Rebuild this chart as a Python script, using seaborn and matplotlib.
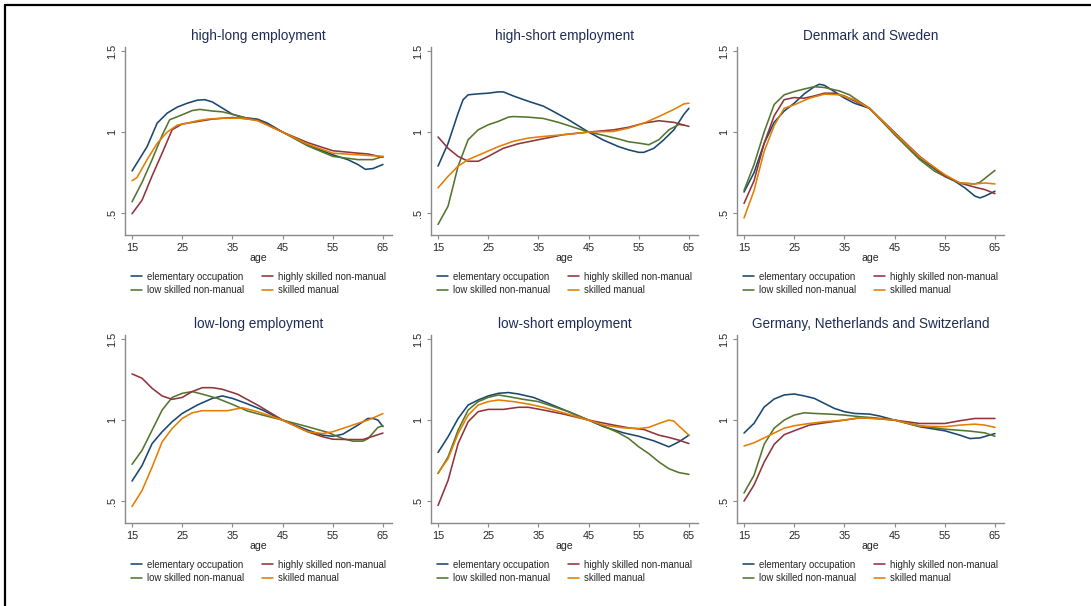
import matplotlib
matplotlib.use("Agg")
import matplotlib.pyplot as plt
import pandas as pd
import seaborn as sns
from matplotlib.lines import Line2D

# Occupation groups (legend order: row-wise 2x2) and their Stata s2color colours
GROUPS = ["elementary occupation", "low skilled non-manual",
          "highly skilled non-manual", "skilled manual"]
COLORS = ["#1a476f", "#55752f", "#90353b", "#e37e00"]

TITLES = ["high-long employment", "high-short employment", "Denmark and Sweden",
          "low-long employment", "low-short employment",
          "Germany, Netherlands and Switzerland"]

AGE_TICKS = [15, 25, 35, 45, 55, 65]
Y_TICKS = [0.5, 1.0, 1.5]
Y_TICK_LABELS = [".5", "1", "1.5"]

# --- high-long employment: (age, relative ratio) ---
hl_elem = [(15, .76), (18, .91), (20, 1.055), (22, 1.117), (24, 1.154), (26, 1.178), (28, 1.197),
           (29.5, 1.20), (31, 1.186), (33, 1.148), (35, 1.11), (37, 1.09), (40, 1.08), (42, 1.055),
           (45, 1.0), (50, .92), (55, .86), (58, .83), (60, .80), (61.5, .77), (63, .775), (65, .80)]
hl_low = [(15, .57), (17, .69), (19, .83), (21, .98), (22.5, 1.076), (25, 1.107), (27, 1.133),
          (28.5, 1.14), (31, 1.13), (33, 1.125), (35, 1.11), (38, 1.086), (40, 1.075), (45, 1.0),
          (50, .915), (55, .85), (60, .83), (63, .83), (65, .85)]
hl_high = [(15, .496), (17, .58), (19, .73), (21, .87), (23, 1.015), (25, 1.05), (28, 1.065),
           (31, 1.08), (35, 1.09), (40, 1.075), (45, 1.0), (50, .935), (55, .885), (60, .87),
           (62, .865), (65, .845)]
hl_skill = [(15, .70), (16, .72), (18, .83), (20, .93), (22, 1.0), (24, 1.043), (26, 1.055),
            (28, 1.07), (30, 1.08), (33, 1.086), (37, 1.086), (40, 1.07), (45, 1.0), (50, .925),
            (55, .87), (60, .86), (65, .85)]

# --- high-short employment ---
hs_elem = [(15, .79), (17, .93), (19, 1.117), (20, 1.20), (21, 1.23), (23, 1.236), (25, 1.24),
           (27, 1.248), (28, 1.248), (30, 1.223), (33, 1.19), (36, 1.16), (38, 1.127), (41, 1.076),
           (45, 1.0), (48, .95), (51, .91), (53, .89), (55, .875), (56, .875), (58, .90), (60, .953),
           (62, 1.014), (64, 1.11), (65, 1.147)]
hs_low = [(15, .43), (17, .543), (19, .79), (21, .953), (23, 1.014), (25, 1.045), (27, 1.066),
          (29, 1.092), (30, 1.096), (33, 1.092), (36, 1.084), (39, 1.06), (42, 1.03), (45, 1.0),
          (48, .98), (51, .957), (53, .94), (55, .932), (57, .922), (59, .953), (61, 1.014),
          (63, 1.047), (64, 1.043)]
hs_high = [(15, .97), (17, .90), (19, .85), (21, .82), (23, .82), (25, .85), (28, .90), (31, .928),
           (35, .953), (40, .984), (45, 1.0), (50, 1.014), (53, 1.03), (56, 1.055), (59, 1.07),
           (62, 1.06), (65, 1.035)]
hs_skill = [(15, .656), (17, .727), (19, .79), (21, .83), (24, .87), (27, .91), (30, .943),
            (33, .963), (36, .973), (40, .984), (45, 1.0), (50, 1.004), (53, 1.025), (56, 1.055),
            (59, 1.096), (62, 1.14), (64, 1.174), (65, 1.178)]

# --- Denmark and Sweden ---
dk_elem = [(15, .63), (17, .75), (19, .93), (21, 1.06), (23, 1.13), (25, 1.178), (27, 1.236),
           (29, 1.28), (30, 1.295), (31, 1.289), (33, 1.25), (35, 1.21), (37, 1.178), (40, 1.147),
           (45, .994), (50, .84), (55, .727), (57, .697), (59, .656), (61, .605), (62, .594),
           (63, .605), (65, .635)]
dk_low = [(15, .64), (17, .80), (19, 1.0), (21, 1.17), (23, 1.23), (25, 1.25), (27, 1.266),
          (29, 1.28), (31, 1.275), (34, 1.254), (36, 1.23), (40, 1.147), (45, .984), (50, .83),
          (53, .758), (55, .727), (58, .686), (61, .68), (62, .69), (65, .764)]
dk_high = [(15, .56), (17, .70), (19, .93), (21, 1.10), (23, 1.20), (25, 1.213), (27, 1.209),
           (29, 1.223), (31, 1.24), (33, 1.24), (35, 1.223), (40, 1.147), (45, .998), (50, .85),
           (55, .73), (58, .686), (61, .66), (63, .645), (65, .62)]
dk_skill = [(15, .47), (17, .64), (19, .88), (21, 1.04), (23, 1.147), (25, 1.168), (28, 1.209),
            (31, 1.234), (34, 1.23), (37, 1.2), (40, 1.147), (45, .994), (50, .846), (55, .738),
            (58, .686), (61, .68), (63, .686), (65, .68)]

# --- low-long employment ---
ll_elem = [(15, .624), (17, .72), (19, .855), (21, .928), (23, .99), (25, 1.041), (28, 1.093),
           (31, 1.134), (33, 1.149), (35, 1.134), (38, 1.1), (41, 1.062), (45, 1.0), (50, .938),
           (53, .907), (55, .9), (57, .913), (60, .969), (62, 1.01), (63, 1.01), (64, 1.0), (65, .96)]
ll_low = [(15, .727), (17, .814), (19, .938), (21, 1.062), (23, 1.14), (25, 1.165), (27, 1.176),
          (29, 1.16), (32, 1.134), (35, 1.097), (38, 1.056), (41, 1.031), (45, 1.0), (50, .959),
          (54, .924), (57, .886), (59, .87), (61, .87), (62, .885), (63, .92), (64, .955), (65, .965)]
ll_high = [(15, 1.285), (17, 1.258), (19, 1.196), (21, 1.149), (23, 1.128), (25, 1.14),
           (27, 1.176), (29, 1.2), (31, 1.2), (33, 1.19), (36, 1.16), (40, 1.093), (45, 1.0),
           (50, .928), (53, .897), (55, .882), (58, .88), (61, .88), (63, .90), (65, .92)]
ll_skill = [(15, .467), (17, .566), (19, .71), (21, .866), (23, .948), (25, 1.01), (27, 1.045),
            (29, 1.058), (31, 1.058), (34, 1.058), (37, 1.076), (40, 1.052), (45, 1.0), (50, .928),
            (53, .917), (55, .928), (58, .959), (60, .98), (62, 1.0), (65, 1.04)]

# --- low-short employment ---
ls_elem = [(15, .8), (17, .897), (19, 1.01), (21, 1.093), (23, 1.124), (25, 1.149), (27, 1.165),
           (29, 1.17), (31, 1.161), (34, 1.14), (37, 1.103), (41, 1.052), (45, 1.0), (48, .959),
           (52, .921), (55, .9), (58, .872), (61, .835), (63, .866), (65, .907)]
ls_low = [(15, .67), (17, .773), (19, .938), (21, 1.062), (23, 1.114), (25, 1.14), (27, 1.155),
          (29, 1.145), (32, 1.128), (35, 1.114), (38, 1.083), (41, 1.052), (45, 1.0), (48, .963),
          (51, .921), (53, .886), (55, .835), (57, .793), (59, .742), (61, .7), (63, .676),
          (65, .665)]
ls_high = [(15, .473), (17, .628), (19, .855), (21, .99), (23, 1.052), (25, 1.066), (28, 1.066),
           (31, 1.079), (33, 1.079), (36, 1.062), (40, 1.037), (45, 1.0), (50, .969), (53, .952),
           (56, .942), (59, .907), (61, .893), (63, .876), (65, .855)]
ls_skill = [(15, .674), (17, .762), (19, .917), (21, 1.031), (23, 1.093), (25, 1.114), (27, 1.124),
            (30, 1.114), (33, 1.099), (36, 1.079), (40, 1.045), (45, 1.0), (48, .969), (52, .952),
            (55, .948), (57, .955), (59, .979), (61, 1.0), (62, .994), (63, .963), (65, .907)]

# --- Germany, Netherlands and Switzerland ---
gn_elem = [(15, .92), (17, .98), (19, 1.08), (21, 1.13), (23, 1.155), (25, 1.161), (27, 1.149),
           (29, 1.134), (31, 1.103), (33, 1.072), (35, 1.052), (37, 1.041), (40, 1.037),
           (42, 1.025), (45, 1.0), (50, .959), (55, .934), (58, .907), (60, .886), (62, .89),
           (65, .917)]
gn_low = [(15, .55), (17, .66), (19, .85), (21, .95), (23, 1.0), (25, 1.031), (27, 1.045),
          (29, 1.041), (32, 1.037), (35, 1.031), (38, 1.021), (41, 1.014), (45, 1.0), (50, .965),
          (55, .944), (60, .932), (63, .921), (65, .9)]
gn_high = [(15, .50), (17, .60), (19, .74), (21, .85), (23, .91), (25, .934), (28, .969),
           (31, .983), (35, 1.0), (38, 1.014), (41, 1.01), (45, 1.0), (50, .979), (55, .979),
           (58, .996), (61, 1.01), (65, 1.01)]
gn_skill = [(15, .84), (17, .86), (19, .89), (21, .92), (23, .95), (25, .965), (28, .979),
            (31, .99), (35, 1.0), (38, 1.014), (41, 1.01), (45, 1.0), (50, .963), (55, .959),
            (58, .969), (61, .975), (63, .969), (65, .955)]

PANELS = [
    (hl_elem, hl_low, hl_high, hl_skill),
    (hs_elem, hs_low, hs_high, hs_skill),
    (dk_elem, dk_low, dk_high, dk_skill),
    (ll_elem, ll_low, ll_high, ll_skill),
    (ls_elem, ls_low, ls_high, ls_skill),
    (gn_elem, gn_low, gn_high, gn_skill),
]


def panel_frame(series):
    rows = []
    for group, pts in zip(GROUPS, series):
        for age, val in pts:
            rows.append({"age": age, "ratio": val, "group": group})
    return pd.DataFrame(rows)


sns.set_theme(style="white")
plt.rcParams["font.family"] = ["Liberation Sans", "DejaVu Sans"]

W, H = 1091, 606
fig = plt.figure(figsize=(W / 100, H / 100), dpi=100)
fig.patch.set_facecolor("white")

AX_LEFTS = [125, 431, 737]
AX_TOPS = [47, 335]
AX_W, AX_H = 267, 188
AXIS_GREY = "#8a8a8a"
TEXT_COL = "#262626"
TITLE_COL = "#1f2d55"

palette = dict(zip(GROUPS, COLORS))

for i, (title, series) in enumerate(zip(TITLES, PANELS)):
    r, c = divmod(i, 3)
    left = AX_LEFTS[c] / W
    bottom = 1 - (AX_TOPS[r] + AX_H) / H
    ax = fig.add_axes([left, bottom, AX_W / W, AX_H / H])
    df = panel_frame(series)
    sns.lineplot(data=df, x="age", y="ratio", hue="group", hue_order=GROUPS,
                 palette=palette, linewidth=1.15, sort=True, estimator=None, ax=ax)

    ax.set_xlim(13.6, 66.8)
    ax.set_ylim(0.365, 1.525)
    ax.set_xticks(AGE_TICKS)
    ax.set_yticks(Y_TICKS)
    ax.set_yticklabels(Y_TICK_LABELS)
    for lab in ax.get_yticklabels():
        lab.set_rotation(90)
        lab.set_va("center")
    ax.tick_params(axis="both", which="major", direction="out", length=3, width=0.8,
                   color=AXIS_GREY, labelsize=7.8, labelcolor=TEXT_COL, pad=2.5,
                   bottom=True, left=True)
    for side in ("top", "right"):
        ax.spines[side].set_visible(False)
    for side in ("left", "bottom"):
        ax.spines[side].set_color(AXIS_GREY)
        ax.spines[side].set_linewidth(1.0)
    ax.set_xlabel("age", fontsize=7.6, color=TEXT_COL, labelpad=0.0)
    ax.set_ylabel("")
    ax.set_title(title, fontsize=9.8, color=TITLE_COL, pad=5)
    ax.set_facecolor("white")
    ax.grid(False)

    handles, labels = ax.get_legend_handles_labels()
    ax.get_legend().remove()
    leg = ax.legend(handles, labels, loc="upper center", bbox_to_anchor=(0.5, -0.195),
                    ncol=2, frameon=False, fontsize=6.9, handlelength=1.1,
                    handletextpad=0.55, columnspacing=1.9, labelspacing=0.35,
                    borderpad=0, borderaxespad=0)
    for t in leg.get_texts():
        t.set_color(TEXT_COL)

# Frame lines along the top and left edges of the figure
fig.add_artist(Line2D([5 / W, 1], [1 - 5 / H, 1 - 5 / H], color="black", lw=1.6,
                      transform=fig.transFigure))
fig.add_artist(Line2D([5 / W, 5 / W], [0, 1 - 5 / H], color="black", lw=1.6,
                      transform=fig.transFigure))

fig.savefig("out.png", dpi=100, facecolor="white")
